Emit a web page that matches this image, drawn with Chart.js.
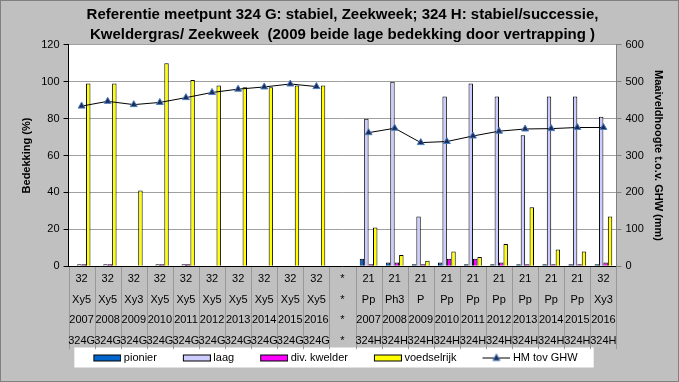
<!DOCTYPE html>
<html>
<head>
<meta charset="utf-8">
<script src="https://cdn.jsdelivr.net/npm/chart.js@4/dist/chart.umd.min.js"></script>
<style>
  html, body { margin: 0; padding: 0; background: #c0c0c0; }
  #wrap { width: 679px; height: 382px; position: relative; }
</style>
</head>
<body>
<div id="wrap"><canvas id="chart"></canvas></div>
<script>
// categorie-labels (4 regels per kolom)
const codes = ['32','32','32','32','32','32','32','32','32','32','*','21','21','21','21','21','21','21','21','21','32'];
const types = ['Xy5','Xy5','Xy3','Xy5','Xy5','Xy5','Xy5','Xy5','Xy5','Xy5','*','Pp','Ph3','P','Pp','Pp','Pp','Pp','Pp','Pp','Xy3'];
const years = ['2007','2008','2009','2010','2011','2012','2013','2014','2015','2016','*','2007','2008','2009','2010','2011','2012','2013','2014','2015','2016'];
const plots = ['324G','324G','324G','324G','324G','324G','324G','324G','324G','324G','*','324H','324H','324H','324H','324H','324H','324H','324H','324H','324H'];

// bedekking (%)
const pionier     = [0, 0, 0, 0, 0, 0, 0, 0, 0, 0, null, 4, 2, 1, 2, 1, 1, 1, 1, 1, 1];
const laag        = [1, 1, 0, 1, 1, 0, 0, 0, 0, 0, null, 80, 100, 27, 92, 99, 92, 71, 92, 92, 81];
const kwelder     = [1, 1, 0, 1, 1, 0, 0, 0, 0, 0, null, 1, 2, 1, 4, 4, 2, 1, 1, 1, 2];
const voedselrijk = [99, 99, 41, 110, 101, 98, 97, 97, 98, 98, null, 21, 6, 3, 8, 5, 12, 32, 9, 8, 27];

// maaiveldhoogte t.o.v. GHW (mm)
const hmGhw = [434, 447, 438, 444, 457, 471, 480, 486, 494, 487, null, 362, 374, 335, 338, 353, 366, 372, 373, 376, 376];

const labels = codes.map((c, i) => [c, types[i], years[i], plots[i]]);

Chart.defaults.font.family = 'Arial, "Liberation Sans", sans-serif';
Chart.defaults.color = '#000';

// legendasymbolen: canvas met lege ruimte links, symbool rechts uitgelijnd
const SYM_W = 49, SYM_S = 3;
function symboolCanvas(teken) {
  const c = document.createElement('canvas');
  c.width = SYM_W + 2 * SYM_S; c.height = 10;
  const g = c.getContext('2d');
  teken(g, c.width - 28, 28);
  return c;
}
const vakje = kleur => symboolCanvas((g, x0, w) => {
  g.fillStyle = kleur;
  g.fillRect(x0 + 0.5, 2.5, w - 1, 6);
  g.strokeStyle = '#000'; g.lineWidth = 1;
  g.strokeRect(x0 + 0.5, 2.5, w - 1, 6);
});
const lijnSymbool = symboolCanvas((g, x0, w) => {
  g.strokeStyle = '#000'; g.lineWidth = 1;
  g.beginPath(); g.moveTo(x0, 5.5); g.lineTo(x0 + w, 5.5); g.stroke();
  const m = x0 + w / 2;
  g.fillStyle = '#1c2a5c'; g.strokeStyle = '#4a7ebb';
  g.beginPath(); g.moveTo(m, 1.5); g.lineTo(m + 3.5, 8); g.lineTo(m - 3.5, 8); g.closePath(); g.fill(); g.stroke();
});

// grijze achtergrond, wit plotvlak, kolomscheidingen onder de as en wit legendavak
const achtergrond = {
  id: 'achtergrond',
  afterLayout(chart) {
    // legenda iets naar links en omhoog schuiven
    const lg = chart.legend;
    lg.left -= 19; lg.right -= 19;
    lg.top -= 4; lg.bottom -= 4;
  },
  beforeDraw(chart) {
    const { ctx, width, height, chartArea } = chart;
    ctx.save();
    ctx.fillStyle = '#c0c0c0';
    ctx.fillRect(0, 0, width, height);
    ctx.fillStyle = '#fff';
    ctx.fillRect(chartArea.left, chartArea.top, chartArea.right - chartArea.left, chartArea.bottom - chartArea.top);
    const boxes = chart.legend.legendHitBoxes;
    if (boxes && boxes.length) {
      const first = boxes[0], last = boxes[boxes.length - 1];
      const mid = first.top + first.height / 2;
      const l = first.left + 5;
      const r = last.left + last.width + 16;
      ctx.fillRect(l, mid - 10, r - l, 20);
    }
    const xs = chart.scales.x;
    const n = xs.ticks.length;
    ctx.strokeStyle = '#989898';
    ctx.lineWidth = 1;
    ctx.beginPath();
    for (let i = 0; i <= n; i++) {
      const x = Math.round(xs.left + i * (xs.right - xs.left) / n) + 0.5;
      ctx.moveTo(x, chartArea.bottom);
      ctx.lineTo(x, chartArea.bottom + 83);
    }
    ctx.stroke();
    ctx.strokeStyle = '#808080';
    ctx.strokeRect(0.5, 0.5, width - 1, height - 1);
    ctx.restore();
  }
};

const staaf = (label, data, kleur) => ({
  label, data,
  backgroundColor: kleur,
  borderColor: '#000',
  borderWidth: 1,
  categoryPercentage: 0.68,
  barPercentage: 1,
  yAxisID: 'y',
  order: 1
});

new Chart(document.getElementById('chart'), {
  type: 'bar',
  data: {
    labels: labels,
    datasets: [
      staaf('pionier', pionier, '#0066cc'),
      staaf('laag', laag, '#ccccff'),
      staaf('div. kwelder', kwelder, '#ff00ff'),
      staaf('voedselrijk', voedselrijk, '#ffff00'),
      {
        type: 'line',
        label: 'HM tov GHW',
        data: hmGhw,
        yAxisID: 'y2',
        borderColor: '#000',
        borderWidth: 1,
        pointStyle: 'triangle',
        pointRadius: 4,
        pointBackgroundColor: '#1c2a5c',
        pointBorderColor: '#4a7ebb',
        pointBorderWidth: 1,
        spanGaps: false,
        order: 0
      }
    ]
  },
  options: {
    responsive: true,
    maintainAspectRatio: false,
    animation: false,
    layout: { padding: { left: 16, right: 10, top: 0, bottom: 5 } },
    plugins: {
      title: {
        display: true,
        text: ['Referentie meetpunt 324 G: stabiel, Zeekweek; 324 H: stabiel/successie,',
               'Kweldergras/ Zeekweek  (2009 beide lage bedekking door vertrapping )'],
        font: { size: 15, weight: 'bold', lineHeight: 1.33 },
        color: '#000',
        padding: { top: 5, bottom: 0 }
      },
      legend: {
        position: 'bottom',
        labels: {
          usePointStyle: true,
          pointStyleWidth: SYM_W,
          boxHeight: 7,
          padding: 2,
          font: { size: 11 },
          color: '#000',
          generateLabels(chart) {
            const items = Chart.defaults.plugins.legend.labels.generateLabels(chart);
            items.sort((a, b) => a.datasetIndex - b.datasetIndex);
            const kleuren = ['#0066cc', '#ccccff', '#ff00ff', '#ffff00'];
            items.forEach(it => {
              it.pointStyle = it.datasetIndex === 4 ? lijnSymbool : vakje(kleuren[it.datasetIndex]);
            });
            return items;
          }
        }
      },
      tooltip: { enabled: false }
    },
    scales: {
      x: {
        grid: { offset: true, drawOnChartArea: false, drawTicks: false },
        border: { color: '#000' },
        ticks: { autoSkip: false, maxRotation: 0, minRotation: 0, padding: 3, font: { size: 11, lineHeight: 1.86 }, color: '#000' }
      },
      y: {
        position: 'left',
        min: 0, max: 120,
        ticks: { stepSize: 20, font: { size: 11 }, color: '#000', padding: 4 },
        grid: { color: '#a0a0a0', tickColor: '#000', tickLength: 5 },
        border: { color: '#000' },
        title: { display: true, text: 'Bedekking (%)', font: { size: 11, weight: 'bold' }, color: '#000' }
      },
      y2: {
        position: 'right',
        min: 0, max: 600,
        ticks: { stepSize: 100, font: { size: 11 }, color: '#000', padding: 4 },
        grid: { drawOnChartArea: false, tickColor: '#808080', tickLength: 5 },
        border: { color: '#808080' },
        title: { display: true, text: 'Maaiveldhoogte t.o.v. GHW (mm)', font: { size: 11, weight: 'bold' }, color: '#000' }
      }
    }
  },
  plugins: [achtergrond]
});
</script>
</body>
</html>
